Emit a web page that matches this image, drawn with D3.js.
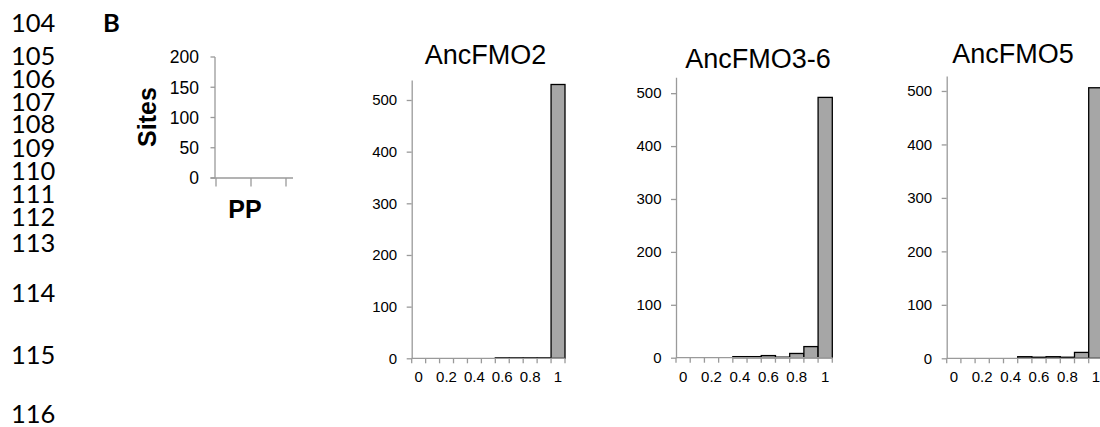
<!DOCTYPE html>
<html>
<head>
<meta charset="utf-8">
<script src="https://cdn.jsdelivr.net/npm/d3@7"></script>
<style>
  body { margin: 0; background: #fff; }
  svg { display: block; }
  .lineno { font-family: Lato, "Open Sans", sans-serif; font-size: 25.5px; fill: #000; }
  .tick-lbl { font-family: "Liberation Sans", Arial, sans-serif; fill: #000; }
  .title { font-family: "Liberation Sans", Arial, sans-serif; font-size: 27px; fill: #000; }
  .bold-lbl { font-family: "Liberation Sans", Arial, sans-serif; font-size: 25px; font-weight: bold; fill: #000; }
</style>
</head>
<body>
<script>
var W = 1100, H = 427

// manuscript line numbers down the left margin
var lineNumbers = ['104', '105', '106', '107', '108', '109', '110', '111', '112', '113', '114', '115', '116']
var lineBaselines = [32, 65, 88, 111, 133, 157, 180, 203, 226, 252, 302, 364, 423]

// posterior probability bins
var ppBins = ['0', '0.1', '0.2', '0.3', '0.4', '0.5', '0.6', '0.7', '0.8', '0.9', '1']
var ppShown = ['0', '0.2', '0.4', '0.6', '0.8', '1']

// sites per bin
var ancFMO2 = [0, 0, 0, 0, 0, 0, 1, 1, 1, 1, 530]
var ancFMO36 = [0, 0, 0, 0, 2, 2, 4, 1, 8, 21, 492]
var ancFMO5 = [0, 0, 0, 0, 0, 3, 2, 3, 2, 11, 506]

var mainTicks = [0, 100, 200, 300, 400, 500]
var keyTicks = [0, 50, 100, 150, 200]
var keyXTicks = [0, 1, 2]

var axisColor = '#9a9a9a'
var barFill = '#a6a6a6'

function d3Translate(x, y) {
  return 'translate(' + x + ',' + y + ')'
}

var svg = d3.select('body').append('svg')
  .attr('width', W)
  .attr('height', H)

svg.selectAll('text.lineno')
  .data(lineNumbers)
  .enter()
  .append('text')
  .attr('class', 'lineno')
  .attr('x', 11)
  .attr('y', function(d, i) { return lineBaselines[i] })
  .text(function(d) { return d })

svg.append('text')
  .attr('class', 'lineno')
  .attr('x', 103)
  .attr('y', 32)
  .style('font-weight', 'bold')
  .text('B')

// --- small key chart (empty axes) ---
var key = { x0: 215, x1: 286, y0: 178, y1: 57, ext: 7 }
var keyY = d3.scaleLinear().domain([0, 200]).range([key.y0, key.y1])
var keyX = d3.scaleLinear().domain([0, 2]).range([key.x0 + 1, key.x1])

var keyG = svg.append('g')
keyG.append('line')
  .attr('x1', key.x0).attr('x2', key.x0)
  .attr('y1', keyY(200)).attr('y2', keyY(0))
  .attr('stroke', axisColor).attr('stroke-width', 1.3)
keyG.append('line')
  .attr('x1', key.x0 - 4.5).attr('x2', keyX(2) + key.ext)
  .attr('y1', keyY(0)).attr('y2', keyY(0))
  .attr('stroke', axisColor).attr('stroke-width', 1.3)

keyG.selectAll('line.ytick')
  .data(keyTicks)
  .enter()
  .append('line')
  .attr('class', 'ytick')
  .attr('x1', key.x0 - 4.5).attr('x2', key.x0)
  .attr('y1', keyY).attr('y2', keyY)
  .attr('stroke', axisColor).attr('stroke-width', 1.3)

keyG.selectAll('text.ylbl')
  .data(keyTicks)
  .enter()
  .append('text')
  .attr('class', 'tick-lbl')
  .attr('x', key.x0 - 16)
  .attr('y', keyY)
  .attr('dy', '0.36em')
  .attr('text-anchor', 'end')
  .style('font-size', '17.5px')
  .text(function(d) { return d })

keyG.selectAll('line.xtick')
  .data(keyXTicks)
  .enter()
  .append('line')
  .attr('x1', keyX).attr('x2', keyX)
  .attr('y1', keyY(0)).attr('y2', keyY(0) + 8.5)
  .attr('stroke', axisColor).attr('stroke-width', 1.3)

svg.append('text')
  .attr('class', 'bold-lbl')
  .attr('transform', 'translate(156,117) rotate(-90)')
  .attr('text-anchor', 'middle')
  .text('Sites')

svg.append('text')
  .attr('class', 'bold-lbl')
  .attr('x', 245)
  .attr('y', 218)
  .attr('text-anchor', 'middle')
  .text('PP')

// --- histograms ---
var panels = [
  { title: 'AncFMO2', values: ancFMO2, left: 411.7, right: 565, base: 358.3, top: 80, yMax: 538.7, tx: 485.5, ty: 64 },
  { title: 'AncFMO3-6', values: ancFMO36, left: 676, right: 832.3, base: 357.7, top: 77.3, yMax: 530, tx: 758, ty: 68 },
  { title: 'AncFMO5', values: ancFMO5, left: 946.7, right: 1102.9, base: 358.3, top: 76, yMax: 528, tx: 1013, ty: 63 }
]

panels.forEach(function(p) {
  var g = svg.append('g')
  var x = d3.scaleBand().domain(ppBins).range([p.left, p.right]).padding(0)
  var y = d3.scaleLinear().domain([0, p.yMax]).range([p.base, p.top])

  g.append('text')
    .attr('class', 'title')
    .attr('x', p.tx)
    .attr('y', p.ty)
    .attr('text-anchor', 'middle')
    .text(p.title)

  var yAxis = d3.axisLeft(y)
    .tickValues(mainTicks)
    .tickSize(5)
    .tickPadding(9.5)
    .tickSizeOuter(0)

  var ya = g.append('g')
    .attr('transform', d3Translate(p.left, 0))
    .call(yAxis)
  ya.select('.domain').attr('stroke', axisColor).attr('stroke-width', 1.3)
  ya.selectAll('.tick line').attr('stroke', axisColor).attr('stroke-width', 1.3)
  ya.selectAll('.tick text')
    .attr('class', 'tick-lbl')
    .style('font-size', '15px')
    .attr('fill', '#000')
  ya.attr('font-family', null).attr('font-size', null)

  // bars (empty bins are not drawn)
  var bins = ppBins.map(function(b, i) { return { bin: b, v: p.values[i] } })
    .filter(function(d) { return d.v > 0 })
  g.selectAll('rect.bar')
    .data(bins)
    .enter()
    .append('rect')
    .attr('x', function(d) { return x(d.bin) })
    .attr('width', x.bandwidth())
    .attr('y', function(d) { return y(d.v) })
    .attr('height', function(d) { return y(0) - y(d.v) })
    .attr('fill', barFill)
    .attr('stroke', '#000')
    .attr('stroke-width', 1.3)

  // x axis line and bin boundary ticks
  g.append('line')
    .attr('x1', p.left).attr('x2', p.right)
    .attr('y1', y(0)).attr('y2', y(0))
    .attr('stroke', axisColor).attr('stroke-width', 1.3)

  var edges = ppBins.map(function(b) { return x(b) }).concat([p.right])
  g.selectAll('line.xtick')
    .data(edges)
    .enter()
    .append('line')
    .attr('x1', function(d) { return d }).attr('x2', function(d) { return d })
    .attr('y1', y(0)).attr('y2', y(0) + 5)
    .attr('stroke', axisColor).attr('stroke-width', 1.3)

  g.selectAll('text.xlbl')
    .data(ppShown)
    .enter()
    .append('text')
    .attr('class', 'tick-lbl')
    .attr('x', function(d) { return x(d) + x.bandwidth() / 2 })
    .attr('y', y(0) + 24)
    .attr('text-anchor', 'middle')
    .style('font-size', '15px')
    .text(function(d) { return d })
})
</script>
</body>
</html>
